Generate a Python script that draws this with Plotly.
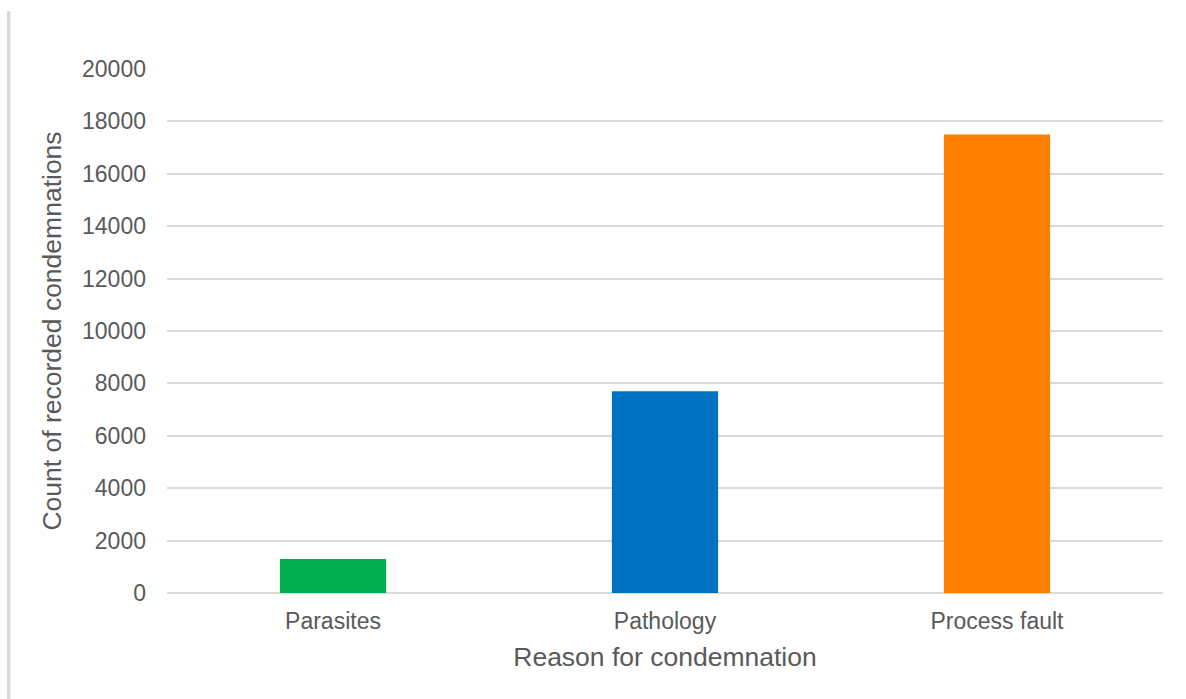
import plotly.graph_objects as go

# Condemnation counts by reason
reasons = ["Parasites", "Pathology", "Process fault"]
counts = [1300, 7700, 17500]
bar_colors = ["#00b050", "#0070c0", "#ff8000"]
y_ticks = [0, 2000, 4000, 6000, 8000, 10000, 12000, 14000, 16000, 18000, 20000]

text_color = "#595959"
grid_color = "#d9d9d9"
font_family = "Liberation Sans, Arial, sans-serif"

fig = go.Figure(
    go.Bar(
        x=reasons,
        y=counts,
        marker=dict(color=bar_colors, line=dict(width=0)),
        width=0.32,
        showlegend=False,
    )
)

fig.update_layout(
    width=1186,
    height=699,
    margin=dict(l=167, r=23, t=69, b=106),
    paper_bgcolor="white",
    plot_bgcolor="white",
    font=dict(family=font_family, color=text_color, size=23),
    shapes=[
        # thin frame line on the left edge of the page
        dict(
            type="line",
            xref="paper",
            yref="paper",
            x0=-0.159,
            x1=-0.159,
            y0=1.11,
            y1=-0.21,
            line=dict(color="#d9d9d9", width=3.5),
        )
    ],
)

fig.update_xaxes(
    showgrid=False,
    showline=False,
    ticks="",
    tickfont=dict(size=23, color=text_color),
    ticklabelstandoff=12,
    title=dict(
        text="Reason for condemnation",
        font=dict(size=26.5, color=text_color),
        standoff=14,
    ),
)

fig.update_yaxes(
    range=[0, 20000],
    tickvals=y_ticks,
    ticktext=[str(v) for v in y_ticks],
    showgrid=True,
    gridcolor=grid_color,
    gridwidth=2,
    zeroline=True,
    zerolinecolor=grid_color,
    zerolinewidth=2,
    showline=False,
    ticks="",
    tickfont=dict(size=23, color=text_color),
    ticklabelstandoff=20,
    title=dict(
        text="Count of recorded condemnations",
        font=dict(size=26.5, color=text_color),
        standoff=12,
    ),
)

fig.write_html("out.html")
